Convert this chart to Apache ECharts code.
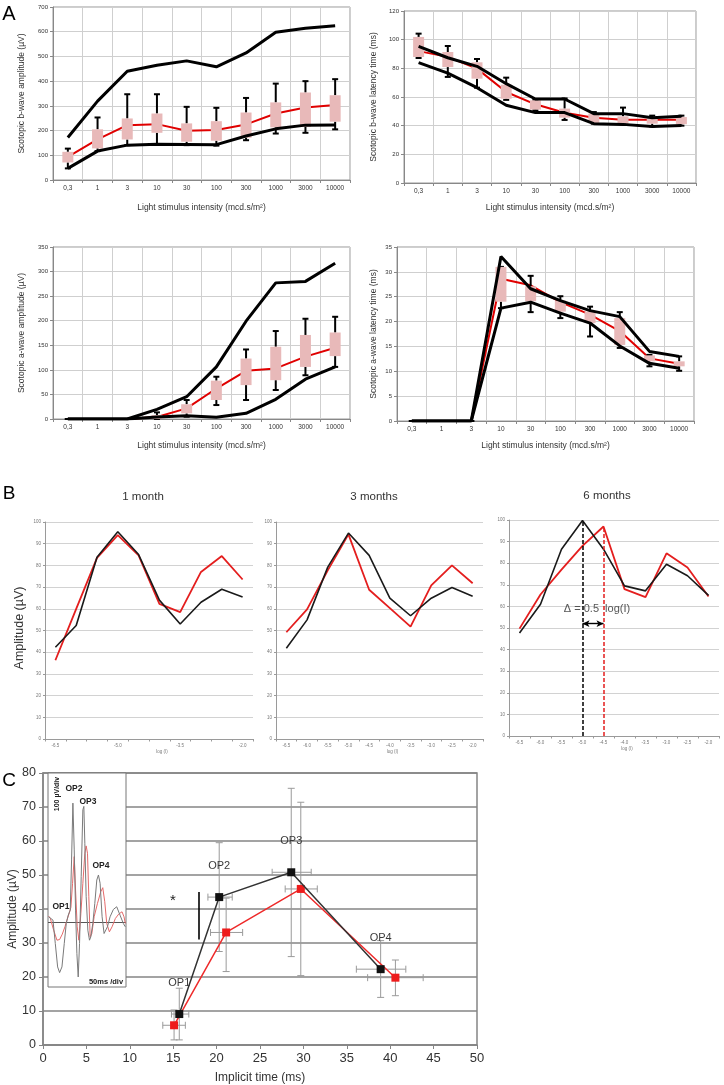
<!DOCTYPE html>
<html><head><meta charset="utf-8">
<script src="https://cdn.jsdelivr.net/npm/echarts@6/dist/echarts.min.js"></script>
<style>html,body{margin:0;padding:0;background:#fff}#c{width:724px;height:1085px}</style>
</head><body><div id="c"></div>
<script>
// ---------- Panel A data ----------
const intensities = ['0,3','1','3','10','30','100','300','1000','3000','10000'];

const bAmpUpper  = [172, 319, 440, 464, 482, 458, 514, 598, 614, 624];
const bAmpLower  = [47, 117, 141, 145, 144, 143, 178, 207, 222, 223];
const bAmpMedian = [94, 164, 222, 226, 199, 202, 225, 269, 293, 303];
const bAmpQ1     = [71, 128, 164, 191, 155, 159, 171, 213, 215, 236];
const bAmpQ3     = [114, 205, 249, 269, 229, 238, 273, 314, 354, 343];
const bAmpHigh   = [127, 253, 347, 347, 296, 292, 332, 390, 400, 408];
const bAmpLow    = [47, 117, 141, 145, 141, 139, 161, 188, 191, 205];

const bLatUpper  = [95.3, 87.4, 81.4, 69.3, 58.6, 58.6, 48.4, 48.4, 45.6, 46.5];
const bLatLower  = [84, 76.7, 66.5, 54.2, 49.1, 49.1, 41.4, 40.9, 39.5, 40.2];
const bLatMedian = [92, 88, 79.8, 63.5, 54.9, 49, 45.6, 44.2, 44.2, 44.2];
const bLatQ1     = [87.9, 80.9, 72.8, 58.8, 51.2, 45.6, 41.9, 41.4, 41.4, 41];
const bLatQ3     = [101.9, 91.4, 84.2, 68.6, 57.7, 51.9, 48.4, 46.5, 46, 46];
const bLatHigh   = [104.2, 95.6, 86.5, 73.5, 58, 59, 49.5, 52.6, 47, 47];
const bLatLow    = [87.2, 74, 66.5, 58, 50.7, 44, 41.4, 41, 39.5, 40];

const aAmpUpper  = [0, 0, 0, 19.6, 45.4, 106, 199, 277, 280, 317];
const aAmpLower  = [0, 0, 0, 4, 6.8, 3.4, 11.5, 40, 81, 106];
const aAmpMedian = [0, 0, 0, 4, 21.7, 62, 98, 103, 127, 145];
const aAmpQ1     = [0, 0, 0, 0, 11.5, 38.6, 69, 79, 106, 128];
const aAmpQ3     = [0, 0, 0, 8, 30, 78, 123, 147, 171, 176];
const aAmpHigh   = [0, 0, 0, 13.5, 38.6, 86, 141.5, 179, 204, 208];
const aAmpLow    = [0, 0, 0, 0, 4.7, 28.4, 38.6, 59, 89, 106];

const aLatUpper  = [0, 0, 0, 33.1, 26.6, 24.2, 22.2, 21, 14, 13];
const aLatLower  = [0, 0, 0, 22.7, 23.9, 21.7, 19.7, 15.1, 11.6, 10.6];
const aLatMedian = [0, 0, 0, 28.6, 27.3, 23.9, 21.4, 18.1, 12.6, 11.5];
const aLatQ1     = [0, 0, 0, 24, 24.1, 22, 19.7, 15.3, 12, 11];
const aLatQ3     = [0, 0, 0, 31, 27.1, 24.2, 22, 20.7, 13.2, 12];
const aLatHigh   = [0, 0, 0, 31, 29.2, 25.1, 23, 21.9, 13.3, 13];
const aLatLow    = [0, 0, 0, 22.7, 21.9, 20.7, 17, 14.7, 11, 10.1];

// ---------- Panel B data ----------
const logI = ['-6.5','-6.0','-5.5','-5.0','-4.5','-4.0','-3.5','-3.0','-2.5','-2.0'];
const m1Control = [42.3, 52.3, 83.8, 95.5, 85, 64, 53, 63, 69, 65.4];
const m1Mutant  = [36.3, 60, 83.5, 94, 84.6, 62.3, 58.5, 77, 84.3, 73.5];
const m3Control = [41.8, 54.9, 79.2, 94.9, 84.6, 64.9, 56.8, 64.9, 69.8, 65.8];
const m3Mutant  = [49.2, 59.7, 77.7, 94.3, 68.8, 60.3, 51.8, 70.8, 80, 71.8];
const m6Control = [47.7, 61, 86.5, 99.8, 86.5, 69.5, 67.2, 79.5, 74.2, 65.1];
const m6Mutant  = [49.7, 65.5, 77, 88, 97, 68, 64.3, 84.6, 78, 64.6];
const deltaArrowLevel = 52;

// ---------- Panel C data ----------
const opLabels   = ['OP1','OP2','OP3','OP4'];
const ctrlTime   = [15.7, 20.3, 28.6, 38.9];
const ctrlAmp    = [9.1, 43.5, 50.8, 22.3];
const ctrlTimeLo = [14.8, 19.0, 26.4, 36.1];
const ctrlTimeHi = [16.8, 21.8, 30.9, 41.8];
const ctrlAmpLo  = [1.5, 27.5, 26.0, 14.0];
const ctrlAmpHi  = [16.7, 59.5, 75.5, 30.7];
const mutTime    = [15.1, 21.1, 29.7, 40.6];
const mutAmp     = [5.8, 33.1, 45.9, 19.8];
const mutTimeLo  = [13.8, 19.3, 27.9, 37.4];
const mutTimeHi  = [16.4, 23.0, 31.6, 43.8];
const mutAmpLo   = [1.5, 21.6, 20.4, 14.5];
const mutAmpHi   = [10.3, 43.2, 71.4, 25.0];
const sigBar     = [[18, 31], [18, 45]];

// inset oscillatory potential traces
const insetTimeCtrl = [1,3.5,7.5,11,14.5,17.5,21,24.5,27.5,30.5,33.5,35.5,37.5,39.5,41.5,43.5,45.5,47.5,50,52.5,54,55.5,57.5,60,62.5,64.5,67.5,70.5,73.5,76,78.5,81.5,84.5,86.5,89.5,93.5,98.5,103.5,108.5,113.5,116.5];
const insetAmpCtrl  = [8,10.5,3,-32,-67,-75.5,-67,-32,-2,10.5,18,93,178,108,18,-47,-82,-32,68,168,173,118,38,-12,-27,-22,-2,28,63,70.5,58,8,-17,-19.5,-7,8,19,23,10.5,-2,-7];
const insetTimeMut  = [1,3.5,8.5,13.5,17.5,21.5,25.5,28.5,31.5,34.5,37,39.5,41.5,44,46.5,49.5,52.5,55.5,57.5,59.5,61.5,63.5,66,69.5,74.5,79.5,82.5,85.5,88.5,92.5,96.5,101.5,106.5,111.5,114.5,116.5];
const insetAmpMut   = [9,5.5,-12,-27,-26,-18,-7,3,12,22,58,98,48,-7,-27,13,58,103,114,103,38,-22,-17,8,28,45.5,51.5,30.5,-2,-14.5,-7,5.5,12,15.5,8,-2];

// ---------- build ----------
const FONT = "'Liberation Sans', Arial, sans-serif";
const NARROW = "'Liberation Sans Narrow', 'Liberation Sans', Arial, sans-serif";

function boxRender(params, api) {
  const x = api.value(0);
  const pLo = api.coord([x, api.value(1)]);
  const pQ1 = api.coord([x, api.value(2)]);
  const pQ3 = api.coord([x, api.value(3)]);
  const pHi = api.coord([x, api.value(4)]);
  const bw = 11, cw = 6;
  const st = {stroke: '#000', lineWidth: 2};
  return {type: 'group', children: [
    {type: 'line', shape: {x1: pHi[0], y1: pHi[1], x2: pQ3[0], y2: pQ3[1]}, style: st},
    {type: 'line', shape: {x1: pHi[0] - cw/2, y1: pHi[1], x2: pHi[0] + cw/2, y2: pHi[1]}, style: st},
    {type: 'line', shape: {x1: pLo[0], y1: pLo[1], x2: pQ1[0], y2: pQ1[1]}, style: st},
    {type: 'line', shape: {x1: pLo[0] - cw/2, y1: pLo[1], x2: pLo[0] + cw/2, y2: pLo[1]}, style: st},
    {type: 'rect', shape: {x: pQ3[0] - bw/2, y: pQ3[1], width: bw, height: Math.max(0, pQ1[1] - pQ3[1])}, style: {fill: '#e8b9b9'}}
  ]};
}

function errRender(color) {
  return function (params, api) {
    const x = api.value(0), y = api.value(1);
    const pxl = api.coord([api.value(2), y]), pxh = api.coord([api.value(3), y]);
    const pyl = api.coord([x, api.value(4)]), pyh = api.coord([x, api.value(5)]);
    const cap = 3.5;
    const st = {stroke: color, lineWidth: 1};
    const L = (a, b, c, d) => ({type: 'line', shape: {x1: a, y1: b, x2: c, y2: d}, style: st});
    return {type: 'group', children: [
      L(pxl[0], pxl[1], pxh[0], pxh[1]),
      L(pxl[0], pxl[1] - cap, pxl[0], pxl[1] + cap),
      L(pxh[0], pxh[1] - cap, pxh[0], pxh[1] + cap),
      L(pyl[0], pyl[1], pyh[0], pyh[1]),
      L(pyl[0] - cap, pyl[1], pyl[0] + cap, pyl[1]),
      L(pyh[0] - cap, pyh[1], pyh[0] + cap, pyh[1])
    ]};
  };
}

const grids = [
  {left: 53, top: 7, width: 297, height: 173, show: true, borderColor: '#999', borderWidth: 1},
  {left: 404, top: 11, width: 292, height: 172, show: true, borderColor: '#999', borderWidth: 1},
  {left: 53, top: 247, width: 297, height: 172, show: true, borderColor: '#999', borderWidth: 1},
  {left: 397, top: 247, width: 297, height: 174, show: true, borderColor: '#999', borderWidth: 1},
  {left: 45, top: 522, width: 208, height: 217},
  {left: 276, top: 522, width: 207, height: 217},
  {left: 509, top: 520, width: 210, height: 216},
  {left: 43, top: 773, width: 434, height: 272, show: true, borderColor: '#858585', borderWidth: 1.5},
  {left: 48, top: 773, width: 78, height: 214, show: true, backgroundColor: '#fff', borderColor: '#777', borderWidth: 1, z: 5}
].map(g => Object.assign({outerBoundsMode: 'none', containLabel: false}, g));

function aXAxis(gi, gap) {
  return {type: 'category', gridIndex: gi, data: intensities, boundaryGap: true,
    name: 'Light stimulus intensity (mcd.s/m²)', nameLocation: 'middle', nameGap: gap,
    nameTextStyle: {fontSize: 8.5, color: '#333', fontFamily: FONT},
    axisLine: {show: true, lineStyle: {color: '#888'}},
    axisTick: {show: true, interval: 0, length: 3, lineStyle: {color: '#888'}},
    axisLabel: {interval: 0, fontSize: 6.5, color: '#333', margin: 5, fontFamily: FONT},
    splitLine: {show: true, interval: 0, lineStyle: {color: '#cfcfcf'}}};
}
function aYAxis(gi, max, interval, name, gap) {
  return {type: 'value', gridIndex: gi, min: 0, max: max, interval: interval,
    name: name, nameLocation: 'middle', nameGap: gap,
    nameTextStyle: {fontSize: 8.5, color: '#333', fontFamily: FONT},
    axisLine: {show: true, lineStyle: {color: '#888'}},
    axisTick: {show: true, length: 3, lineStyle: {color: '#888'}},
    axisLabel: {fontSize: 6, color: '#333', margin: 5, fontFamily: FONT},
    splitLine: {show: true, lineStyle: {color: '#cfcfcf'}}};
}
function aSeries(gi, upper, lower, median, lo, q1, q3, hi) {
  const base = {type: 'line', xAxisIndex: gi, yAxisIndex: gi, symbol: 'none', silent: true};
  return [
    Object.assign({}, base, {data: median, lineStyle: {color: '#e00000', width: 2}, z: 2}),
    {type: 'custom', xAxisIndex: gi, yAxisIndex: gi, silent: true, renderItem: boxRender, z: 3,
      encode: {x: 0, y: [1, 2, 3, 4]},
      data: intensities.map((_, i) => [i, lo[i], q1[i], q3[i], hi[i]])},
    Object.assign({}, base, {data: upper, lineStyle: {color: '#000', width: 3}, z: 4}),
    Object.assign({}, base, {data: lower, lineStyle: {color: '#000', width: 3}, z: 4})
  ];
}

function bXAxis(gi, labelInterval) {
  return {type: 'category', gridIndex: gi, data: logI, boundaryGap: true,
    name: 'log (I)', nameLocation: 'middle', nameGap: 9,
    nameTextStyle: {fontSize: 4.5, color: '#777', padding: [0, 0, 0, 26]},
    axisLine: {show: true, lineStyle: {color: '#9a9a9a'}},
    axisTick: {show: true, interval: 0, length: 2.5, lineStyle: {color: '#9a9a9a'}},
    axisLabel: {interval: labelInterval, fontSize: 4.5, color: '#777', margin: 4},
    splitLine: {show: false}};
}
function bYAxis(gi) {
  return {type: 'value', gridIndex: gi, min: 0, max: 100, interval: 10,
    axisLine: {show: true, lineStyle: {color: '#9a9a9a'}},
    axisTick: {show: true, length: 2, lineStyle: {color: '#9a9a9a'}},
    axisLabel: {fontSize: 4.5, color: '#777', margin: 4},
    splitLine: {show: true, lineStyle: {color: '#d2d2d2'}}};
}
function bSeries(gi, ctrl, mut) {
  const base = {type: 'line', xAxisIndex: gi, yAxisIndex: gi, symbol: 'none', silent: true};
  return [
    Object.assign({}, base, {data: mut, lineStyle: {color: '#e41e1e', width: 1.8}, z: 3}),
    Object.assign({}, base, {data: ctrl, lineStyle: {color: '#1a1a1a', width: 1.6}, z: 4})
  ];
}

const ctrlPeak = m6Control.indexOf(Math.max(...m6Control));
const mutPeak = m6Mutant.indexOf(Math.max(...m6Mutant));

const xAxes = [
  aXAxis(0, 23), aXAxis(1, 20), aXAxis(2, 22), aXAxis(3, 20),
  bXAxis(4, 2), bXAxis(5, 0), bXAxis(6, 0),
  {type: 'value', gridIndex: 7, min: 0, max: 50, interval: 5,
    name: 'Implicit time (ms)', nameLocation: 'middle', nameGap: 27,
    nameTextStyle: {fontSize: 12, color: '#333', fontFamily: NARROW},
    axisLine: {show: true, lineStyle: {color: '#858585', width: 1.5}},
    axisTick: {show: true, length: 4, lineStyle: {color: '#858585'}},
    axisLabel: {fontSize: 13, color: '#333', margin: 7, fontFamily: FONT},
    splitLine: {show: false}},
  {type: 'value', gridIndex: 8, min: 0, max: 117.5, show: false, splitLine: {show: false}}
];
const yAxes = [
  aYAxis(0, 700, 100, 'Scotopic b-wave amplitude (µV)', 27),
  aYAxis(1, 120, 20, 'Scotopic b-wave latency time (ms)', 26),
  aYAxis(2, 350, 50, 'Scotopic a-wave amplitude (µV)', 27),
  aYAxis(3, 35, 5, 'Scotopic a-wave latency time (ms)', 19),
  bYAxis(4), bYAxis(5), bYAxis(6),
  {type: 'value', gridIndex: 7, min: 0, max: 80, interval: 10,
    name: 'Amplitude (µV)', nameLocation: 'middle', nameGap: 24, nameMoveOverlap: false,
    nameTextStyle: {fontSize: 12, color: '#333', fontFamily: NARROW},
    axisLine: {show: true, lineStyle: {color: '#858585', width: 1.5}},
    axisTick: {show: true, length: 4, lineStyle: {color: '#858585'}},
    axisLabel: {fontSize: 12.5, color: '#333', margin: 7, fontFamily: FONT},
    splitLine: {show: true, lineStyle: {color: '#858585', width: 1.5}}},
  {type: 'value', gridIndex: 8, min: -97, max: 223, show: false, splitLine: {show: false}}
];

const series = [].concat(
  aSeries(0, bAmpUpper, bAmpLower, bAmpMedian, bAmpLow, bAmpQ1, bAmpQ3, bAmpHigh),
  aSeries(1, bLatUpper, bLatLower, bLatMedian, bLatLow, bLatQ1, bLatQ3, bLatHigh),
  aSeries(2, aAmpUpper, aAmpLower, aAmpMedian, aAmpLow, aAmpQ1, aAmpQ3, aAmpHigh),
  aSeries(3, aLatUpper, aLatLower, aLatMedian, aLatLow, aLatQ1, aLatQ3, aLatHigh),
  bSeries(4, m1Control, m1Mutant),
  bSeries(5, m3Control, m3Mutant),
  bSeries(6, m6Control, m6Mutant),
  [
    // panel B 6-month annotations
    {type: 'line', xAxisIndex: 6, yAxisIndex: 6, data: [], silent: true,
      markLine: {silent: true, symbol: 'none', label: {show: false}, animation: false,
        data: [
          [{coord: [ctrlPeak, 0], lineStyle: {color: '#000', type: [4, 2], width: 1.5}}, {coord: [ctrlPeak, m6Control[ctrlPeak]]}],
          [{coord: [mutPeak, 0], lineStyle: {color: '#e41e1e', type: [4, 2], width: 1.5}}, {coord: [mutPeak, m6Mutant[mutPeak]]}],
          [{coord: [ctrlPeak, deltaArrowLevel], symbol: 'arrow', symbolSize: [5, 7], lineStyle: {color: '#000', type: 'solid', width: 1.4}},
           {coord: [mutPeak, deltaArrowLevel], symbol: 'arrow', symbolSize: [5, 7]}]
        ]}},
    // panel C error bars
    {type: 'custom', xAxisIndex: 7, yAxisIndex: 7, silent: true, z: 2, renderItem: errRender('#9a9a9a'),
      encode: {x: 0, y: 1},
      data: ctrlTime.map((t, i) => [t, ctrlAmp[i], ctrlTimeLo[i], ctrlTimeHi[i], ctrlAmpLo[i], ctrlAmpHi[i]])},
    {type: 'custom', xAxisIndex: 7, yAxisIndex: 7, silent: true, z: 2, renderItem: errRender('#9a9a9a'),
      encode: {x: 0, y: 1},
      data: mutTime.map((t, i) => [t, mutAmp[i], mutTimeLo[i], mutTimeHi[i], mutAmpLo[i], mutAmpHi[i]])},
    {type: 'line', xAxisIndex: 7, yAxisIndex: 7, silent: true, z: 3,
      data: mutTime.map((t, i) => [t, mutAmp[i]]),
      symbol: 'rect', symbolSize: 8, itemStyle: {color: '#ee1c1c'},
      lineStyle: {color: '#ee2a2a', width: 1.5}},
    {type: 'line', xAxisIndex: 7, yAxisIndex: 7, silent: true, z: 4,
      data: ctrlTime.map((t, i) => [t, ctrlAmp[i]]),
      symbol: 'rect', symbolSize: 8, itemStyle: {color: '#111'},
      lineStyle: {color: '#333', width: 1.5},
      label: {show: true, position: 'top', distance: 22, formatter: p => opLabels[p.dataIndex],
        fontSize: 11, color: '#3a3a3a', fontFamily: NARROW},
      markLine: {silent: true, symbol: 'none', label: {show: false}, animation: false,
        lineStyle: {color: '#000', type: 'solid', width: 1.6},
        data: [[{coord: sigBar[0]}, {coord: sigBar[1]}]]}},
    // inset traces
    {type: 'line', xAxisIndex: 8, yAxisIndex: 8, silent: true, z: 6, symbol: 'none',
      data: insetTimeMut.map((t, i) => [t, insetAmpMut[i]]),
      lineStyle: {color: '#e56a6a', width: 1}},
    {type: 'line', xAxisIndex: 8, yAxisIndex: 8, silent: true, z: 7, symbol: 'none',
      data: insetTimeCtrl.map((t, i) => [t, insetAmpCtrl[i]]),
      lineStyle: {color: '#7a7a7a', width: 1},
      markLine: {silent: true, symbol: 'none', label: {show: false}, animation: false,
        lineStyle: {color: '#555', type: 'solid', width: 1},
        data: [{yAxis: 0}]}}
  ]
);

function txt(x, y, text, size, opts) {
  return Object.assign({type: 'text', x: x, y: y, silent: true, z: 20,
    style: Object.assign({text: text, fontSize: size, fontFamily: FONT, fill: '#333',
      align: 'center', verticalAlign: 'middle'}, (opts && opts.style) || {})},
    (opts && opts.el) || {});
}

const graphics = [
  txt(9, 14, 'A', 20, {style: {fill: '#000'}}),
  txt(9, 494, 'B', 19, {style: {fill: '#000'}}),
  txt(9, 781, 'C', 19, {style: {fill: '#000'}}),
  txt(143, 497, '1 month', 11.5),
  txt(374, 497, '3 months', 11.5),
  txt(607, 496, '6 months', 11.5),
  txt(20, 628, 'Amplitude (µV)', 12.5, {el: {rotation: Math.PI / 2}}),
  txt(597, 609, 'Δ = 0.5  log(I)', 11, {style: {fill: '#555'}}),
  txt(173, 901, '*', 15, {style: {fill: '#222'}}),
  txt(57, 794, '100 µV/div', 7, {style: {fontWeight: 'bold', fill: '#222'}, el: {rotation: Math.PI / 2}}),
  txt(74, 789, 'OP2', 8.5, {style: {fontWeight: 'bold', fill: '#222'}}),
  txt(88, 802, 'OP3', 8.5, {style: {fontWeight: 'bold', fill: '#222'}}),
  txt(101, 866, 'OP4', 8.5, {style: {fontWeight: 'bold', fill: '#222'}}),
  txt(61, 907, 'OP1', 8.5, {style: {fontWeight: 'bold', fill: '#222'}}),
  txt(106, 982, '50ms /div', 7.5, {style: {fontWeight: 'bold', fill: '#222'}})
];

const chart = echarts.init(document.getElementById('c'), null, {renderer: 'canvas'});
chart.setOption({
  animation: false,
  backgroundColor: '#fff',
  textStyle: {fontFamily: FONT},
  grid: grids,
  xAxis: xAxes,
  yAxis: yAxes,
  series: series,
  graphic: graphics
});
</script></body></html>
